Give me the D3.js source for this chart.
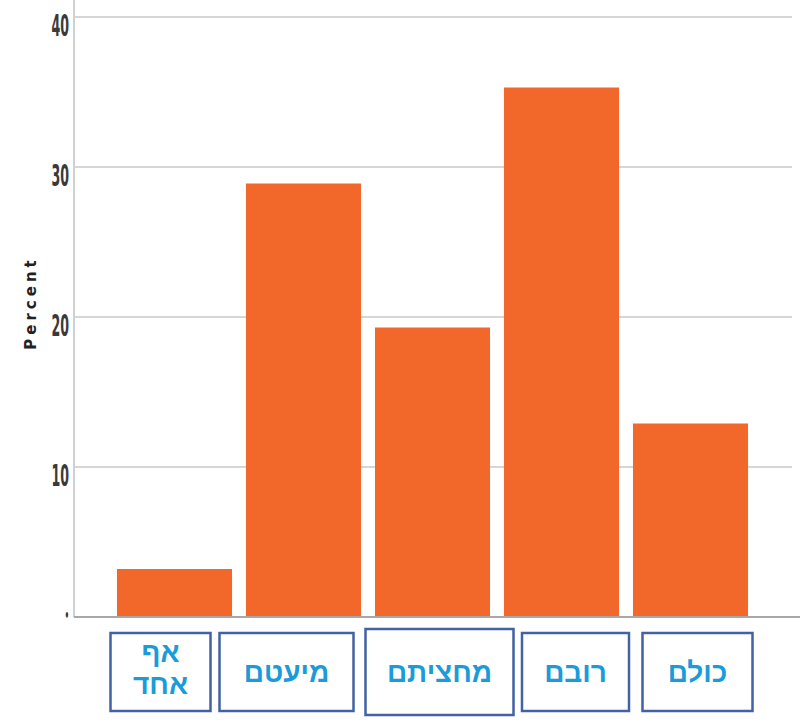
<!DOCTYPE html>
<html>
<head>
<meta charset="utf-8">
<script src="https://cdn.jsdelivr.net/npm/d3@7"></script>
<style>
  body { margin: 0; background: #fff; }
  svg { display: block; }
</style>
</head>
<body>
<svg width="802" height="720"></svg>
<script>
// data
const categories = ['אף אחד', 'מיעטם', 'מחציתם', 'רובם', 'כולם'];
const percents = [3.2, 28.9, 19.3, 35.3, 12.9];
const tickValues = [0, 10, 20, 30, 40];
const yLabel = 'Percent';

// label boxes under the bars (pasted annotation, not perfectly aligned)
const boxWidths = [100, 134, 148, 107, 110];
const boxShift = [-14, -17, 7, 14, 7];

const svg = d3.select('svg');
const width = +svg.attr('width');
const height = +svg.attr('height');

const xScale = d3.scaleBand()
  .domain(categories)
  .range([110, 755])
  .paddingInner(0.108)
  .paddingOuter(0.054);

const yScale = d3.scaleLinear()
  .domain([0, 40])
  .range([617, 17]);

// grid
svg.append('g').selectAll('line').data(tickValues.filter(d => d > 0))
  .enter().append('line')
  .attr('x1', 75).attr('x2', 792)
  .attr('y1', d => yScale(d)).attr('y2', d => yScale(d))
  .attr('stroke', '#d6d6d6')
  .attr('stroke-width', 2);

// y axis line
svg.append('line')
  .attr('x1', 74).attr('x2', 74)
  .attr('y1', 0).attr('y2', yScale(0))
  .attr('stroke', '#d0d0d0')
  .attr('stroke-width', 2);

// bars
svg.append('g').selectAll('rect').data(percents)
  .enter().append('rect')
  .attr('x', (d, i) => xScale(categories[i]))
  .attr('y', d => yScale(d))
  .attr('width', xScale.bandwidth())
  .attr('height', d => yScale(0) - yScale(d))
  .attr('fill', '#f2672a');

// baseline
svg.append('line')
  .attr('x1', 74).attr('x2', 800)
  .attr('y1', yScale(0)).attr('y2', yScale(0))
  .attr('stroke', '#a8a8a8')
  .attr('stroke-width', 2);

// tick labels (tall condensed look)
svg.append('g').selectAll('text').data(tickValues)
  .enter().append('text')
  .attr('transform', d => `translate(69, ${yScale(d) + (d === 0 ? 4 : 19)}) scale(0.42, 1)`)
  .attr('text-anchor', 'end')
  .attr('font-family', 'DejaVu Sans, sans-serif')
  .attr('font-size', d => d === 0 ? 16 : 30)
  .attr('font-weight', 'bold')
  .attr('fill', '#3a3a3a')
  .text(d => d === 0 ? '•' : d);

// y label
svg.append('text')
  .attr('transform', `translate(36, 303) rotate(-90)`)
  .attr('text-anchor', 'middle')
  .attr('font-family', 'DejaVu Sans, sans-serif')
  .attr('font-size', 15)
  .attr('font-weight', 'bold')
  .attr('letter-spacing', 4)
  .attr('fill', '#222')
  .text(yLabel);

// category boxes
const boxes = svg.append('g').selectAll('g').data(categories)
  .enter().append('g')
  .attr('transform', (d, i) => {
    const cx = xScale(d) + xScale.bandwidth() / 2 + boxShift[i];
    return `translate(${cx}, 0)`;
  });

boxes.append('rect')
  .attr('x', (d, i) => -boxWidths[i] / 2)
  .attr('y', (d, i) => i === 2 ? 629 : 633)
  .attr('width', (d, i) => boxWidths[i])
  .attr('height', (d, i) => i === 2 ? 86 : 78)
  .attr('fill', '#fff')
  .attr('stroke', '#4262a3')
  .attr('stroke-width', 2.5);

boxes.each(function (d) {
  const words = d.split(' ');
  const g = d3.select(this);
  words.forEach((w, j) => {
    g.append('text')
      .attr('x', 0)
      .attr('y', words.length > 1 ? 662 + j * 32 : 682)
      .attr('text-anchor', 'middle')
      .attr('direction', 'rtl')
      .attr('font-family', 'Liberation Sans, Arial, sans-serif')
      .attr('font-size', 28)
      .attr('font-weight', 'bold')
      .attr('fill', '#1b9bd7')
      .text(w);
  });
});
</script>
</body>
</html>
